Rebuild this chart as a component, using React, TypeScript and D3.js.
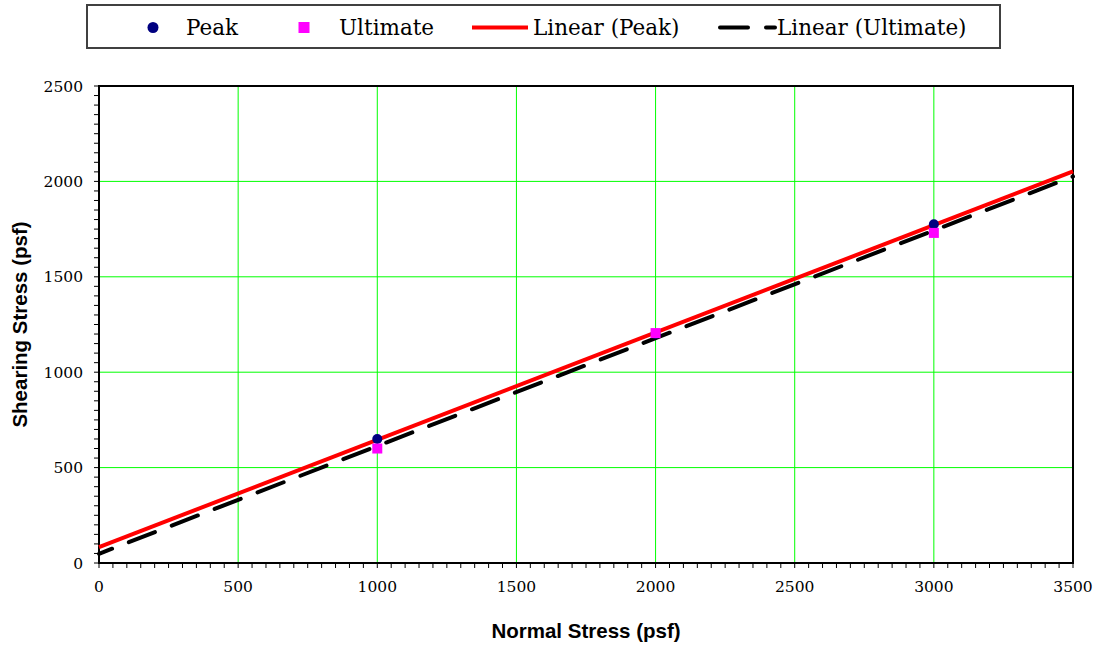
import React from "react";
import * as d3 from "d3";

const normalStress = [1000, 2000, 3000];
const peakShear = [650, 1200, 1775];
const ultimateShear = [600, 1205, 1730];
const xTicks = [0, 500, 1000, 1500, 2000, 2500, 3000, 3500];
const yTicks = [0, 500, 1000, 1500, 2000, 2500];

const W = 1102;
const H = 645;
const M = { left: 99, right: 1073, top: 86, bottom: 563 };

function fit(xs: number[], ys: number[]) {
  const n = xs.length;
  const mx = d3.mean(xs)!;
  const my = d3.mean(ys)!;
  let sxy = 0, sxx = 0;
  for (let i = 0; i < n; i++) {
    sxy += (xs[i] - mx) * (ys[i] - my);
    sxx += (xs[i] - mx) * (xs[i] - mx);
  }
  const b = sxy / sxx;
  const a = my - b * mx;
  return (x: number) => a + b * x;
}

export default function App() {
  const x = d3.scaleLinear().domain([0, 3500]).range([M.left, M.right]);
  const y = d3.scaleLinear().domain([0, 2500]).range([M.bottom, M.top]);
  const minorX = d3.range(0, 3501, 50);
  const minorY = d3.range(0, 2501, 50);
  const fPeak = fit(normalStress, peakShear);
  const fUlt = fit(normalStress, ultimateShear);
  const trend = (f: (v: number) => number) =>
    d3.line<number>().x((d) => x(d)).y((d) => y(f(d)))([0, 3500]) || "";
  const serif = "'DejaVu Serif', serif";
  const sans = "'Liberation Sans', Arial, sans-serif";
  return (
    <svg width={W} height={H} style={{ position: "absolute", left: 0, top: 0, background: "#fff" }}>
      <rect x={0} y={0} width={W} height={H} fill="#fff" />
      {/* grid */}
      {xTicks.slice(1, -1).map((t) => (
        <line key={"gx" + t} x1={x(t)} x2={x(t)} y1={M.top} y2={M.bottom} stroke="#00ff00" strokeWidth={1} />
      ))}
      {yTicks.slice(1, -1).map((t) => (
        <line key={"gy" + t} x1={M.left} x2={M.right} y1={y(t)} y2={y(t)} stroke="#00ff00" strokeWidth={1} />
      ))}
      {/* minor ticks */}
      {minorX.map((t) => (
        <line key={"mx" + t} x1={x(t)} x2={x(t)} y1={M.bottom} y2={M.bottom + 5} stroke="#000" strokeWidth={1} />
      ))}
      {minorY.map((t) => (
        <line key={"my" + t} x1={M.left - 5} x2={M.left} y1={y(t)} y2={y(t)} stroke="#000" strokeWidth={1} />
      ))}
      {/* frame */}
      <rect x={M.left} y={M.top} width={M.right - M.left} height={M.bottom - M.top} fill="none" stroke="#000" strokeWidth={2} />
      {/* trendlines */}
      <path d={trend(fPeak)} stroke="#ff0000" strokeWidth={4} fill="none" />
      <path d={trend(fUlt)} stroke="#000" strokeWidth={4} fill="none" strokeDasharray="28 18" strokeDashoffset={14} strokeLinecap="round" />
      {/* points */}
      {normalStress.map((v, i) => (
        <circle key={"p" + i} cx={x(v)} cy={y(peakShear[i])} r={5} fill="#000080" />
      ))}
      {normalStress.map((v, i) => (
        <rect key={"u" + i} x={x(v) - 5} y={y(ultimateShear[i]) - 5} width={10} height={10} fill="#ff00ff" />
      ))}
      {/* tick labels */}
      {xTicks.map((t) => (
        <text key={"xl" + t} x={x(t)} y={592} textAnchor="middle" fontFamily={serif} fontSize={15.5}>{t}</text>
      ))}
      {yTicks.map((t) => (
        <text key={"yl" + t} x={83} y={y(t) + 5.5} textAnchor="end" fontFamily={serif} fontSize={15.5}>{t}</text>
      ))}
      {/* axis titles */}
      <text x={(M.left + M.right) / 2} y={638} textAnchor="middle" fontFamily={sans} fontWeight="bold" fontSize={20.5}>Normal Stress (psf)</text>
      <text transform={`translate(27, ${(M.top + M.bottom) / 2}) rotate(-90)`} textAnchor="middle" fontFamily={sans} fontWeight="bold" fontSize={20.5}>Shearing Stress (psf)</text>
      {/* legend */}
      <rect x={87} y={5} width={913} height={43} fill="#fff" stroke="#404040" strokeWidth={2} />
      <circle cx={153} cy={27.5} r={5.5} fill="#000080" />
      <text x={186} y={35} fontFamily={serif} fontSize={21.5}>Peak</text>
      <rect x={298.5} y={22} width={11} height={11} fill="#ff00ff" />
      <text x={339} y={35} fontFamily={serif} fontSize={21.5}>Ultimate</text>
      <line x1={472} x2={528} y1={27.5} y2={27.5} stroke="#ff0000" strokeWidth={4} />
      <text x={533} y={35} fontFamily={serif} fontSize={21.5}>Linear (Peak)</text>
      <line x1={720} x2={775} y1={27.5} y2={27.5} stroke="#000" strokeWidth={4} strokeDasharray="28 18" strokeLinecap="round" />
      <text x={777} y={35} fontFamily={serif} fontSize={21.5}>Linear (Ultimate)</text>
    </svg>
  );
}
